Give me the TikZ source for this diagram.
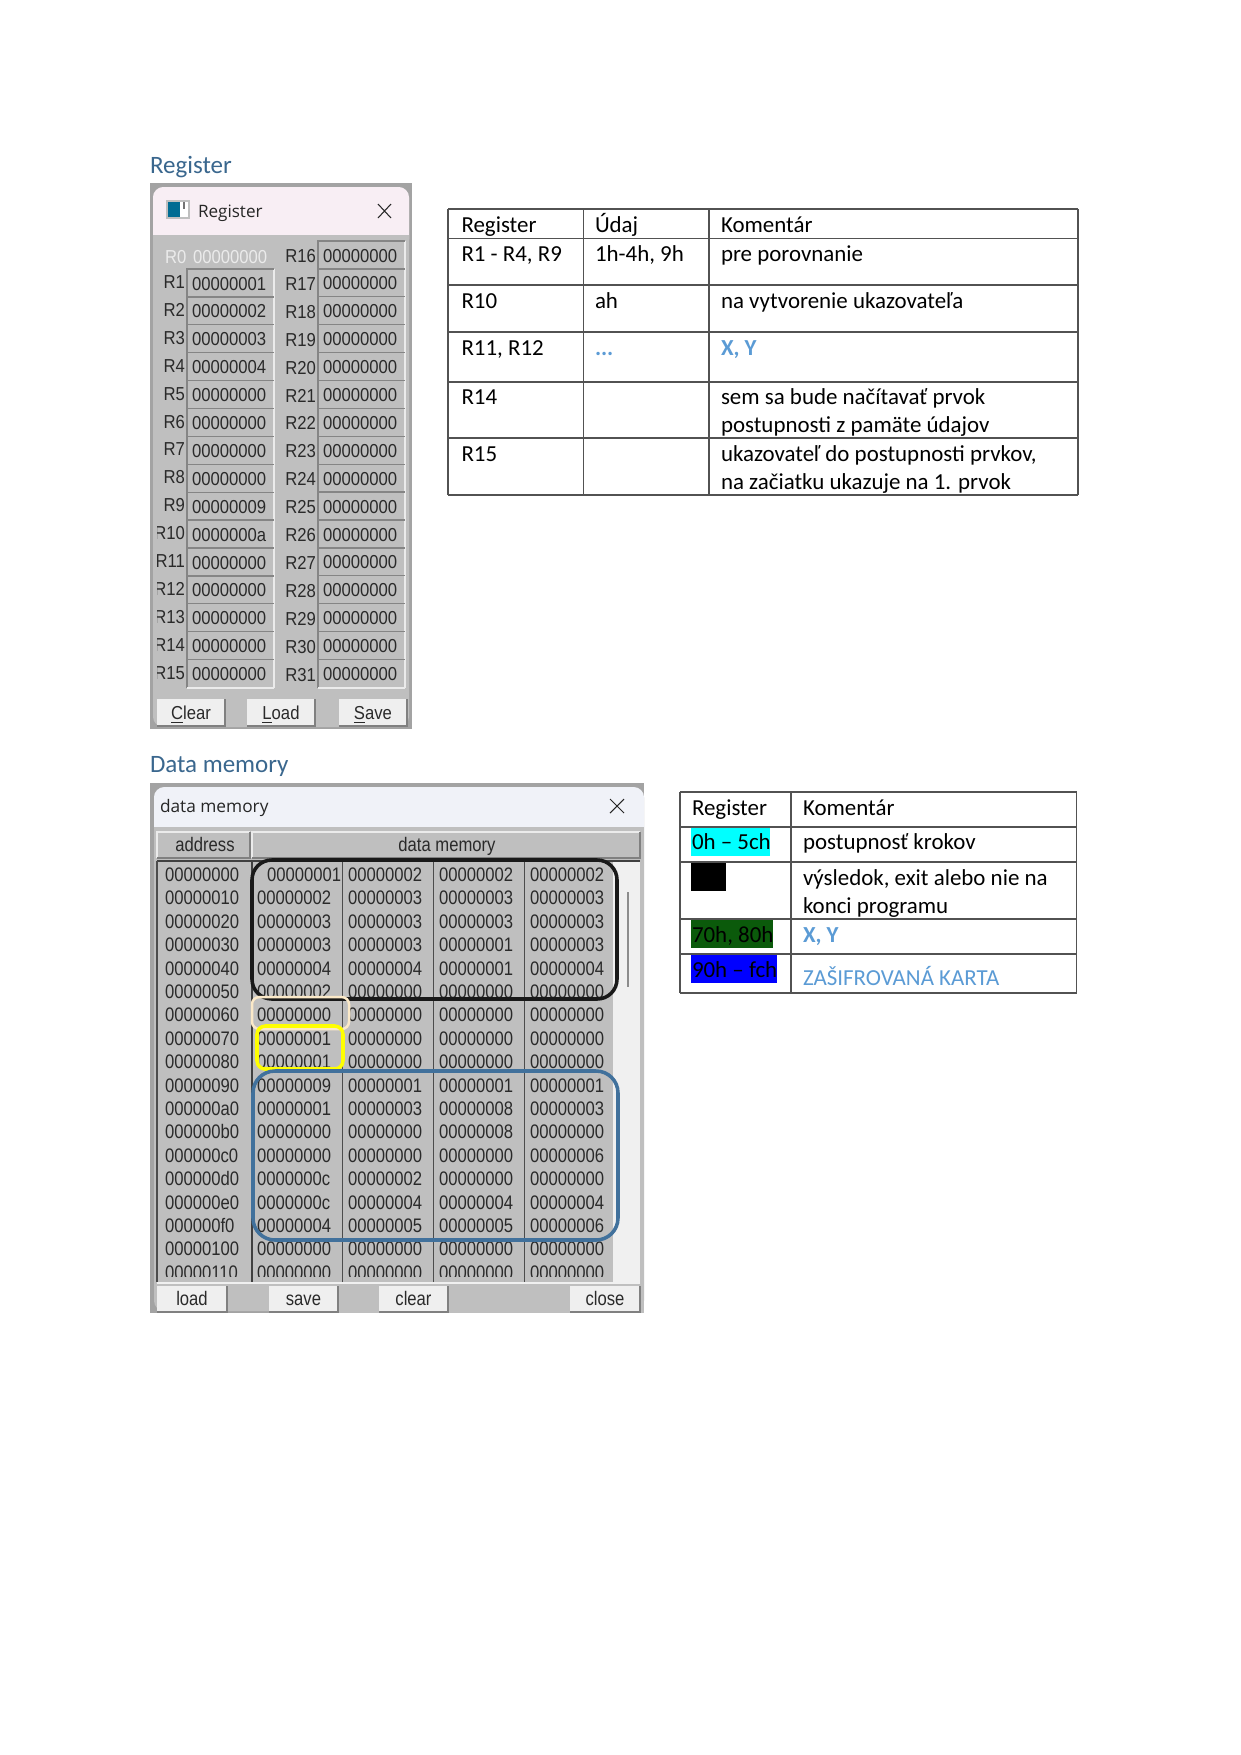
\documentclass[tikz,border=0pt]{standalone}
\usepackage{fontspec}
\setmainfont{Carlito}
\newfontfamily\memfam[FakeStretch=0.85]{Liberation Sans}
\newfontfamily\regfam[FakeStretch=0.89]{Liberation Sans}
\newfontfamily\uifam{Open Sans}
\definecolor{headc}{HTML}{3A678E}
\definecolor{linkc}{HTML}{5B9BD5}
\definecolor{panelc}{HTML}{BFBFBF}
\definecolor{rimc}{HTML}{A3A3A3}
\definecolor{btnc}{HTML}{EFEFEF}
\definecolor{darkc}{HTML}{2A2A2A}
\definecolor{pinkc}{HTML}{F8EEF4}
\definecolor{titlec}{HTML}{F0F2F8}
\definecolor{creamc}{HTML}{FBE9C8}
\definecolor{ringblue}{HTML}{41719C}
\definecolor{hlgreen}{HTML}{0B5A0B}
\definecolor{hlcyan}{HTML}{00FFFF}
\definecolor{hlblue}{HTML}{0000FF}
\definecolor{hlyellow}{HTML}{FFFF00}
\tikzset{
  x=0.48pt,y=-0.48pt,
  txt/.style={anchor=base west,inner sep=0pt,outer sep=0pt},
  cell/.style={txt,font=\fontsize{11}{13}\selectfont,text=black},
  linkcell/.style={cell,text=linkc},
  heading/.style={txt,font=\fontsize{12}{14}\selectfont,text=headc},
  mem/.style={txt,font=\memfam\fontsize{9.4}{12}\selectfont,text=darkc},
  memc/.style={mem,anchor=base},
  regv/.style={txt,font=\regfam\fontsize{9}{11}\selectfont,text=darkc},
  regl/.style={regv,anchor=base east},
  regc/.style={memc,font=\regfam\fontsize{9}{11}\selectfont},
  tline/.style={draw=black!68,line width=0.55pt},
  btnface/.style={fill=btnc,draw=none},
  btnshade/.style={draw=black!50,line width=0.7pt},
  sunken/.style={draw=black!48,line width=0.65pt},
  lit/.style={draw=white!92!black,line width=0.65pt},
  closex/.style={draw=black!85,line width=0.5pt},
  ringbox/.style={draw,line width=1.7pt}
}
\newcommand{\mybtn}[7]{%
  \fill[btnface] (#1,#2) rectangle (#3,#4);
  \draw[btnshade] (#1,#4) -- (#3,#4) -- (#3,#2);
  \node[#5] (#6) at ({(#1+#3)/2},{(#2+#4)/2+6.8}) {#7};
}
\newcommand{\regbox}[2]{%
  \draw[lit] ({#1+87},{#2-14}) -- ({#1+87},{#2+14});
  \draw[sunken] (#1,{#2+14}) -- (#1,{#2-14}) -- ({#1+87},{#2-14});
}
\begin{document}
\begin{tikzpicture}
\useasboundingbox (0,0) rectangle (1241,1755);
\fill[white] (0,0) rectangle (1241,1755);

% ---- Register window
\node[heading] (hreg) at (150,173.5) {Register};
\fill[rimc] (150,183) rectangle (412,729);
\fill[panelc,rounded corners=5pt] (153,187) rectangle (409,727);
\fill[pinkc,rounded corners=5pt] (153,187) rectangle (409,250);
\fill[panelc] (153,235) rectangle (409,256);
% icon
\fill[black!25] (166,200) rectangle (190,219);
\fill[white] (168,202) rectangle (188,217);
\fill[teal!85!blue] (168,202) rectangle (180,217);
\fill[black!55] (183,202) rectangle (185,209);
\node[txt,font=\uifam\fontsize{8.2}{10}\selectfont,text=black!85] (tReg) at (198,217) {Register};
\coordinate (xa1) at (378,204); \coordinate (xa2) at (391,218);
\coordinate (xa3) at (378,218); \coordinate (xa4) at (391,204);
\draw[closex] (xa1) -- (xa2) (xa3) -- (xa4);

\node[regv,text=white!92!black] (r0l) at (165,263) {R0};
\node[regv,text=white!92!black] (r0v) at (193,263) {00000000};

\foreach \i/\v in {1/00000001,2/00000002,3/00000003,4/00000004,5/00000000,6/00000000,7/00000000,8/00000000,9/00000009,10/0000000a,11/00000000,12/00000000,13/00000000,14/00000000,15/00000000}{
  \pgfmathsetmacro{\yy}{283+(\i-1)*27.9}
  \regbox{187}{\yy}
  \node[regv] (rv\i) at (192,\yy+7) {\v};
  \begin{scope}
    \clip (157,\yy-20) rectangle (190,\yy+20);
    \node[regl] (rl\i) at (185,\yy+5.5) {R\i};
  \end{scope}
}
\foreach \i in {16,...,31}{
  \pgfmathsetmacro{\yy}{255+(\i-16)*27.9}
  \regbox{318}{\yy}
  \node[regv] (rv\i) at (323,\yy+7) {00000000};
  \node[regl] (rl\i) at (316,\yy+7.5) {R\i};
}
\coordinate (wa) at (187,688); \coordinate (wb) at (274,688);
\coordinate (wc) at (318,688); \coordinate (wd) at (405,688);
\draw[lit] (wa) -- (wb) (wc) -- (wd);

\mybtn{157}{699}{225}{726}{regc}{bClear}{\underline{C}lear}
\mybtn{247}{699}{315}{726}{regc}{bLoad}{\underline{L}oad}
\mybtn{339}{699}{407}{726}{regc}{bSave}{\underline{S}ave}

% ---- Register table
\foreach \yy in {209,238.5,285,332,382,438,495}{ \draw[tline] (448,\yy) -- (1078,\yy); }
\foreach \xx in {448,583.5,709,1078}{ \draw[tline] (\xx,209) -- (\xx,495); }
\node[cell] (a0) at (461.5,232) {Register};
\node[cell] (b0) at (595,232) {Údaj};
\node[cell] (c0) at (721,232) {Komentár};
\node[cell] (a1) at (461.5,261) {R1 - R4, R9};
\node[cell] (b1) at (595,261) {1h-4h, 9h};
\node[cell] (c1) at (721,261) {pre porovnanie};
\node[cell] (a2) at (461.5,308) {R10};
\node[cell] (b2) at (595,308) {ah};
\node[cell] (c2) at (721,308) {na vytvorenie ukazovateľa};
\node[cell] (a3) at (461.5,355) {R11, R12};
\node[linkcell,font=\fontsize{11}{13}\selectfont\bfseries] (b3) at (595,355) {...};
\node[linkcell,font=\fontsize{11}{13}\selectfont\bfseries] (c3) at (721,355) {X, Y};
\node[cell] (a4) at (461.5,404) {R14};
\node[cell] (c4) at (721,404) {sem sa bude načítavať prvok};
\node[cell] (c4b) at (721,432) {postupnosti z pamäte údajov};
\node[cell] (a5) at (461.5,461) {R15};
\node[cell] (c5) at (721,461) {ukazovateľ do postupnosti prvkov,};
\node[cell] (c5b) at (721,489) {na začiatku ukazuje na 1. prvok};

% ---- Data memory window
\node[heading] (hmem) at (150,772.5) {Data memory};
\fill[rimc] (150,783) rectangle (644,1313);
\fill[panelc,rounded corners=5pt] (154,787) rectangle (644,1311);
\fill[panelc] (300,1300) rectangle (644,1313);
\fill[titlec,rounded corners=5pt] (154,787) rectangle (644,840);
\fill[panelc] (154,827) rectangle (644,850);
\node[txt,font=\uifam\fontsize{8.3}{10}\selectfont,text=black!85] (tMem) at (160,812) {data memory};
\coordinate (xb1) at (610,799); \coordinate (xb2) at (624,813);
\coordinate (xb3) at (610,813); \coordinate (xb4) at (624,799);
\draw[closex] (xb1) -- (xb2) (xb3) -- (xb4);

% header buttons
\draw[lit] (157,858) -- (157,832) -- (250,832);
\draw[lit] (252,858) -- (252,832) -- (640,832);
\draw[btnshade] (157,858) -- (250,858) -- (250,832);
\draw[btnshade] (252,858) -- (640,858) -- (640,832);
\node[memc] (haddr) at (205,851) {address};
\node[memc] (hdata) at (447,851) {data memory};

% grid
\fill[panelc] (157,861) rectangle (613,1282);
\fill[white!94!black] (613,861) rectangle (640,1282);
\coordinate (sa) at (628,892); \coordinate (sb) at (628,987);
\draw[draw=black!45,line width=0.9pt] (sa) -- (sb);
\draw[draw=white!94!black,line width=0.8pt] (157,1283) -- (640,1283);
\draw[draw=black!75,line width=0.8pt] (157,861) -- (640,861);
\draw[draw=black!70,line width=0.5pt] (157,861) -- (157,1282);
\draw[draw=black!75,line width=0.6pt] (252,861) -- (252,1282);
\foreach \xx in {342,433,524}{ \draw[draw=black!70,line width=0.45pt] (\xx,861) -- (\xx,1282); }

\begin{scope}
\clip (157,861) rectangle (613,1276);
\foreach \rr/\ad/\va/\vb/\vc/\vd in {
 0/00000000/1/2/2/2, 1/00000010/2/3/3/3, 2/00000020/3/3/3/3, 3/00000030/3/3/1/3,
 4/00000040/4/4/1/4, 5/00000050/2/0/0/0, 6/00000060/0/0/0/0, 7/00000070/1/0/0/0,
 8/00000080/1/0/0/0, 9/00000090/9/1/1/1, 10/000000a0/1/3/8/3, 11/000000b0/0/0/8/0,
 12/000000c0/0/0/0/6, 13/000000d0/c/2/0/0, 14/000000e0/c/4/4/4, 15/000000f0/4/5/5/6,
 16/00000100/0/0/0/0, 17/00000110/0/0/0/0}{
  \pgfmathsetmacro{\yy}{881.5+\rr*23.4}
  \pgfmathsetmacro{\xo}{\rr==0 ? 267 : 257}
  \node[mem] (ad\rr) at (165,\yy) {\ad};
  \node[mem] (ma\rr) at (\xo,\yy) {0000000\va};
  \node[mem] (mb\rr) at (348,\yy) {0000000\vb};
  \node[mem] (mc\rr) at (439,\yy) {0000000\vc};
  \node[mem] (md\rr) at (530,\yy) {0000000\vd};
}
\end{scope}

% highlight rings
\draw[ringbox,draw=black!90,rounded corners=9.5pt] (252,860) rectangle (617,999);
\draw[draw=creamc,line width=1.2pt,rounded corners=3.5pt] (252,997) rectangle (349,1029);
\draw[ringbox,draw=hlyellow,rounded corners=4pt] (257,1026) rectangle (343,1069);
\draw[ringbox,draw=ringblue,rounded corners=10.5pt] (253,1071) rectangle (618,1240);

\mybtn{157}{1286}{227}{1312}{memc}{bload}{load}
\mybtn{269}{1286}{338}{1312}{memc}{bsave}{save}
\mybtn{379}{1286}{448}{1312}{memc}{bclear}{clear}
\mybtn{570}{1286}{640}{1312}{memc}{bclose}{close}

% ---- Second table
\fill[hlcyan] (691,827) rectangle (770,856);
\fill[black] (691,863) rectangle (726,891);
\fill[hlgreen] (691,920) rectangle (773,948);
\fill[hlblue] (691,955) rectangle (777,983);
\foreach \yy in {792,827,862,919,954,993}{ \draw[tline] (680,\yy) -- (1076.5,\yy); }
\foreach \xx in {680,791,1076.5}{ \draw[tline] (\xx,792) -- (\xx,993); }
\node[cell] (p0) at (692,815) {Register};
\node[cell] (q0) at (803,815) {Komentár};
\node[cell] (p1) at (692,849) {0h – 5ch};
\node[cell] (q1) at (803,849) {postupnosť krokov};
\node[cell] (q2) at (803,885) {výsledok, exit alebo nie na};
\node[cell] (q2b) at (803,913) {konci programu};
\node[cell] (p3) at (692,942) {70h, 80h};
\node[linkcell,font=\fontsize{11}{13}\selectfont\bfseries] (q3) at (803,942) {X, Y};
\node[cell] (p4) at (692,977) {90h – fch};
\node[linkcell] (q4) at (803,985) {ZAŠIFROVANÁ KARTA};
\end{tikzpicture}
\end{document}
